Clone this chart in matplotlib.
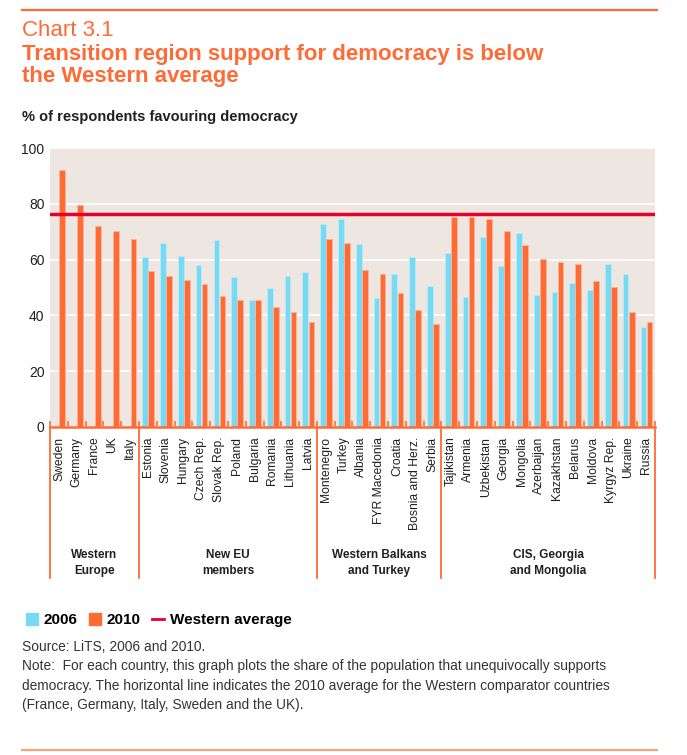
#!/usr/bin/env python3
import numpy as np
import matplotlib
matplotlib.use('Agg')
import matplotlib.pyplot as plt
from matplotlib.patches import Patch
from matplotlib.lines import Line2D

countries = ['Sweden', 'Germany', 'France', 'UK', 'Italy',
             'Estonia', 'Slovenia', 'Hungary', 'Czech Rep.', 'Slovak Rep.',
             'Poland', 'Bulgaria', 'Romania', 'Lithuania', 'Latvia',
             'Montenegro', 'Turkey', 'Albania', 'FYR Macedonia', 'Croatia',
             'Bosnia and Herz.', 'Serbia',
             'Tajikistan', 'Armenia', 'Uzbekistan', 'Georgia', 'Mongolia',
             'Azerbaijan', 'Kazakhstan', 'Belarus', 'Moldova', 'Kyrgyz Rep.',
             'Ukraine', 'Russia']

nan = np.nan
share_2006 = [nan, nan, nan, nan, nan,
              60.8, 66.0, 61.3, 58.1, 67.1, 53.9, 45.5, 49.8, 54.1, 55.6,
              72.9, 74.5, 65.7, 46.2, 54.9, 61.1, 50.7,
              62.4, 46.6, 68.1, 57.7, 69.5, 47.2, 48.4, 51.6, 49.2, 58.6,
              54.7, 35.7]
share_2010 = [92.0, 79.5, 71.9, 70.1, 67.3,
              55.9, 54.1, 52.7, 51.3, 46.9, 45.5, 45.5, 43.0, 41.3, 37.5,
              67.5, 65.9, 56.3, 54.9, 48.0, 41.8, 36.9,
              75.3, 75.3, 74.4, 70.4, 65.1, 60.1, 59.0, 58.6, 52.3, 50.2,
              41.3, 37.8]
western_average = 76.5

group_names = ['Western\nEurope', 'New EU\nmembers',
               'Western Balkans\nand Turkey', 'CIS, Georgia\nand Mongolia']
group_sizes = [5, 10, 7, 12]

orange = '#ff6b35'
cyan = '#78d9f3'
red = '#e8002a'
dark = '#231f20'
sans = ['Liberation Sans', 'DejaVu Sans']

fig = plt.figure(figsize=(6.87, 7.55), dpi=100)
ax = fig.add_axes([50/687, 1-427/755, 605/687, 279/755])
ax.set_facecolor('#ede6e1')

x = np.arange(len(countries))
w = 0.32
ax.bar(x - 0.15, share_2006, w, color=cyan, edgecolor='#b8ecfa', linewidth=0.6, zorder=2)
ax.bar(x + 0.19, share_2010, w, color=orange, edgecolor='#f9b79c', linewidth=0.6, zorder=2)
ax.axhline(western_average, color=red, lw=2.2, zorder=4)
ax.axhline(western_average, color=red, lw=3.6, alpha=0.2, zorder=3)

ax.set_xlim(-0.5, len(countries) - 0.5)
ax.set_ylim(0, 100)
ax.set_yticks([0, 20, 40, 60, 80, 100])
ax.yaxis.grid(True, color='white', lw=1.2)
ax.set_axisbelow(True)
for s in ['top', 'right', 'left']:
  ax.spines[s].set_visible(False)
ax.spines['bottom'].set_color(orange)
ax.spines['bottom'].set_linewidth(1.8)
ax.tick_params(axis='y', length=0, pad=4, labelsize=10, labelcolor=dark)
for lab in ax.get_yticklabels():
  lab.set_family(sans)

ax.set_xticks(x)
ax.set_xticklabels(countries, rotation=90, fontsize=8.7, color=dark, family=sans)
ax.tick_params(axis='x', which='major', length=0, pad=7)
ax.set_xticks(np.arange(-0.5, len(countries)), minor=True)
ax.tick_params(axis='x', which='minor', direction='in', length=4, width=1.2, color=orange)

# group separators and labels under the axis
bounds = np.concatenate([[0], np.cumsum(group_sizes)]) - 0.5
trans = ax.get_xaxis_transform()
for b in bounds:
  ax.plot([b, b], [0, -151/279], color=orange, lw=1.3, transform=trans, clip_on=False)
for i, name in enumerate(group_names):
  ax.text((bounds[i] + bounds[i+1]) / 2, -136/279, name, transform=trans,
          ha='center', va='center', fontsize=8.5, fontweight='bold',
          color=dark, family=sans, linespacing=1.45)

# header
fig.add_artist(Line2D([22/687, 657/687], [1-10/755, 1-10/755], color=orange, lw=1.6))
fig.text(22/687, 1-36/755, 'Chart 3.1', color=orange, fontsize=16,
         family=sans, va='baseline')
fig.text(22/687, 1-60/755, 'Transition region support for democracy is below',
         color=orange, fontsize=16, fontweight='bold', family=sans, va='baseline')
fig.text(22/687, 1-82/755, 'the Western average',
         color=orange, fontsize=16, fontweight='bold', family=sans, va='baseline')
fig.text(22/687, 1-121/755, '% of respondents favouring democracy',
         color=dark, fontsize=10.5, fontweight='bold', family=sans, va='baseline')

# legend
handles = [Patch(color=cyan), Patch(color=orange), Line2D([0], [0], color=red, lw=2)]
fig.legend(handles, ['2006', '2010', 'Western average'], loc='center left',
           bbox_to_anchor=(18/687, 1-620/755), ncol=3, frameon=False,
           handlelength=0.8, handleheight=0.8, handletextpad=0.4,
           columnspacing=0.7, borderpad=0,
           prop={'family': sans, 'weight': 'bold', 'size': 11})

# notes
notes = ['Source: LiTS, 2006 and 2010.',
         'Note:  For each country, this graph plots the share of the population that unequivocally supports',
         'democracy. The horizontal line indicates the 2010 average for the Western comparator countries',
         '(France, Germany, Italy, Sweden and the UK).']
for k, line in enumerate(notes):
  fig.text(22/687, 1-(647 + 19.3*k)/755, line, color='#333333', fontsize=9.9,
           family=sans, va='center')

fig.add_artist(Line2D([22/687, 657/687], [1-750/755, 1-750/755], color='#f9a27f', lw=1.6))

plt.savefig('out.png', dpi=100)
